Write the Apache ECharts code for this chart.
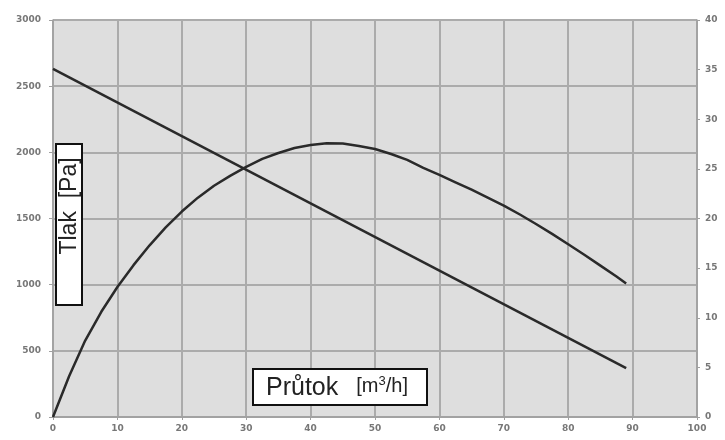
<!DOCTYPE html>
<html>
<head>
<meta charset="utf-8">
<script src="https://cdn.jsdelivr.net/npm/echarts@6/dist/echarts.min.js"></script>
<style>
  html, body { margin: 0; padding: 0; background: #fff; }
  #chart { width: 725px; height: 440px; }
</style>
</head>
<body>
<div id="chart"></div>
<script>
  // průtok [m3/h] – body tlakové přímky
  var pressureFlow = [0, 89]
  // tlak [Pa]
  var pressureValues = [2630, 370]

  // průtok pro křivku (pravá osa)
  var curveFlow = [0, 2.5, 5, 7.5, 10, 12.5, 15, 17.5, 20, 22.5, 25, 27.5, 30, 32.5, 35, 37.5, 40, 42.5, 45,
    47.5, 50, 52.5, 55, 57.5, 60, 62.5, 65, 67.5, 70, 72.5, 75, 77.5, 80, 82.5, 85, 87.5, 89]
  var curveValues = [0, 4.1, 7.7, 10.6, 13.1, 15.3, 17.3, 19.1, 20.7, 22.1, 23.3, 24.3, 25.2, 26.0, 26.6, 27.1, 27.4, 27.57, 27.55,
    27.3, 27.0, 26.5, 25.9, 25.1, 24.4, 23.65, 22.9, 22.1, 21.3, 20.4, 19.45, 18.45, 17.4, 16.35, 15.25, 14.15, 13.45]

  // popisky os
  var leftTicks = [0, 500, 1000, 1500, 2000, 2500, 3000]
  var rightTicks = [0, 5, 10, 15, 20, 25, 30, 35, 40]
  var xTicks = [0, 10, 20, 30, 40, 50, 60, 70, 80, 90, 100]

  function pairs(xs, ys) {
    var out = []
    for (var i = 0; i < xs.length; i++) {
      out.push([xs[i], ys[i]])
    }
    return out
  }

  var labelStyle = {
    fontSize: 9,
    fontWeight: 'bold',
    color: '#777',
    fontFamily: 'DejaVu Sans',
    formatter: function (v) { return String(v) }
  }

  var chart = echarts.init(document.getElementById('chart'))

  chart.setOption({
    animation: false,
    grid: {
      left: 53,
      right: 28,
      top: 20,
      bottom: 23,
      show: true,
      backgroundColor: '#dedede',
      borderColor: '#a8a8a8',
      borderWidth: 1
    },
    xAxis: {
      type: 'value',
      min: xTicks[0],
      max: xTicks[xTicks.length - 1],
      interval: 10,
      axisLine: { show: true, lineStyle: { color: '#a0a0a0', width: 1.5 } },
      axisTick: { show: true, length: 3, lineStyle: { color: '#a0a0a0' } },
      axisLabel: Object.assign({ margin: 7 }, labelStyle),
      splitLine: { show: true, lineStyle: { color: '#ababab', width: 2 } }
    },
    yAxis: [
      {
        type: 'value',
        min: leftTicks[0],
        max: leftTicks[leftTicks.length - 1],
        interval: 500,
        axisLine: { show: true, lineStyle: { color: '#a0a0a0', width: 1.5 } },
        axisTick: { show: true, length: 4, lineStyle: { color: '#a0a0a0' } },
        axisLabel: Object.assign({ margin: 12 }, labelStyle),
        splitLine: { show: true, lineStyle: { color: '#ababab', width: 2 } }
      },
      {
        type: 'value',
        position: 'right',
        min: rightTicks[0],
        max: rightTicks[rightTicks.length - 1],
        interval: 5,
        axisLine: { show: true, lineStyle: { color: '#a0a0a0', width: 1.5 } },
        axisTick: { show: true, length: 3, lineStyle: { color: '#a0a0a0' } },
        axisLabel: Object.assign({ margin: 8 }, labelStyle),
        splitLine: { show: false }
      }
    ],
    series: [
      {
        name: 'Tlak',
        type: 'line',
        yAxisIndex: 0,
        showSymbol: false,
        data: pairs(pressureFlow, pressureValues),
        lineStyle: { color: '#2a2a2a', width: 2.5 }
      },
      {
        name: 'Křivka',
        type: 'line',
        yAxisIndex: 1,
        showSymbol: false,
        data: pairs(curveFlow, curveValues),
        lineStyle: { color: '#2a2a2a', width: 2.5, join: 'round' }
      }
    ],
    graphic: [
      {
        type: 'rect',
        shape: { x: 56, y: 144, width: 26, height: 161 },
        style: { fill: '#fff', stroke: '#111', lineWidth: 2 },
        z: 100
      },
      {
        type: 'text',
        x: 70,
        y: 206,
        rotation: Math.PI / 2,
        style: {
          text: 'Tlak  [Pa]',
          fontSize: 23,
          fontFamily: 'Liberation Sans',
          fill: '#222',
          align: 'center',
          verticalAlign: 'middle'
        },
        z: 101
      },
      {
        type: 'rect',
        shape: { x: 253, y: 369, width: 174, height: 36 },
        style: { fill: '#fff', stroke: '#111', lineWidth: 2 },
        z: 100
      },
      {
        type: 'text',
        x: 266,
        y: 388,
        style: {
          text: '{a|Průtok}{b|[m}{c|3}{b|/h]}',
          fill: '#222',
          verticalAlign: 'middle',
          rich: {
            a: { fontSize: 25, fontFamily: 'Liberation Sans', fill: '#222', padding: [0, 18, 0, 0] },
            b: { fontSize: 20, fontFamily: 'Liberation Sans', fill: '#222', padding: [0, 0, 4, 0] },
            c: { fontSize: 13, fontFamily: 'Liberation Sans', fill: '#222', padding: [0, 0, 14, 0] }
          }
        },
        z: 101
      }
    ]
  })
</script>
</body>
</html>
